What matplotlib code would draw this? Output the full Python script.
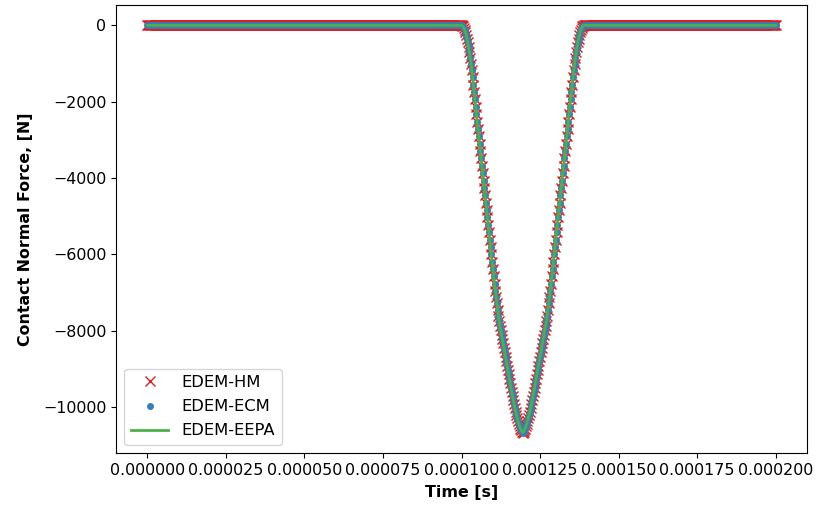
import numpy as np
import matplotlib
matplotlib.use("Agg")
import matplotlib.pyplot as plt

# Sampling grid of the exported contact history (microseconds)
dt_us = 0.25
time_us = np.arange(0.0, 200.0 + dt_us / 2, dt_us)

# Normal force (N) while the particles are in contact.
# Loading branch: 100.00 us ... 119.50 us (peak)
contact_start_us = 100.0
loading_force = [
    0, -8, -29, -65, -114, -177, -253, -344, -448, -565,
    -697, -842, -1001, -1174, -1360, -1554, -1747, -1940, -2134, -2327,
    -2520, -2713, -2907, -3100, -3293, -3487, -3680, -3873, -4067, -4260,
    -4453, -4646, -4840, -5033, -5226, -5420, -5613, -5806, -6000, -6193,
    -6386, -6579, -6773, -6949, -7115, -7280, -7445, -7611, -7756, -7872,
    -7987, -8103, -8218, -8334, -8449, -8564, -8680, -8795, -8911, -9026,
    -9142, -9257, -9373, -9489, -9605, -9717, -9825, -9928, -10027, -10121,
    -10210, -10293, -10371, -10443, -10507, -10564, -10612, -10650, -10670,
]
# Unloading branch: 119.75 us ... 139.00 us
unloading_force = [
    -10650, -10612, -10564, -10507, -10443, -10371, -10293, -10210, -10121, -10027,
    -9928, -9825, -9717, -9605, -9489, -9373, -9257, -9142, -9026, -8911,
    -8795, -8680, -8564, -8449, -8334, -8218, -8103, -7987, -7872, -7756,
    -7611, -7445, -7280, -7115, -6949, -6773, -6579, -6386, -6193, -6000,
    -5806, -5613, -5420, -5226, -5033, -4840, -4646, -4453, -4260, -4067,
    -3873, -3680, -3487, -3293, -3100, -2907, -2713, -2520, -2327, -2134,
    -1940, -1747, -1554, -1360, -1174, -1001, -842, -697, -565, -448,
    -344, -253, -177, -114, -65, -29, -8, 0,
]

series_labels = ["EDEM-HM", "EDEM-ECM", "EDEM-EEPA"]

# Full force history: zero before and after the contact window
contact_force = loading_force + unloading_force
force = np.zeros_like(time_us)
i0 = int(round(contact_start_us / dt_us))
force[i0:i0 + len(contact_force)] = contact_force

# The three contact models give the same trace
hm_force = force
ecm_force = force
eepa_force = force
time_s = time_us * 1e-6

plt.rcParams["font.family"] = ["DejaVu Sans"]
plt.rcParams["font.size"] = 11.4

fig = plt.figure(figsize=(8.16, 5.07), dpi=100)
ax = fig.add_axes([0.1422, 0.1065, 0.8468, 0.8836])

ax.plot(time_s, hm_force, linestyle="none", marker="x", markersize=7.5,
        markeredgewidth=1.0, color="#e41a1c", label=series_labels[0])
ax.plot(time_s, ecm_force, linestyle="none", marker=".", markersize=8,
        color="#377eb8", label=series_labels[1])
ax.plot(time_s, eepa_force, linestyle="-", linewidth=2.0,
        color="#4daf4a", label=series_labels[2])

xticks = np.arange(0.0, 0.0002001, 0.000025)
ax.set_xticks(xticks)
ax.set_xticklabels([f"{v:.6f}" for v in xticks])
ax.set_yticks([-10000, -8000, -6000, -4000, -2000, 0])

ax.set_xlabel("Time [s]", fontweight="bold", labelpad=5)
ax.set_ylabel("Contact Normal Force, [N]", fontweight="bold", labelpad=7)
ax.legend(loc="lower left", fontsize=11.8, handlelength=2.3, labelspacing=0.55)

fig.savefig("out.png", dpi=100)
